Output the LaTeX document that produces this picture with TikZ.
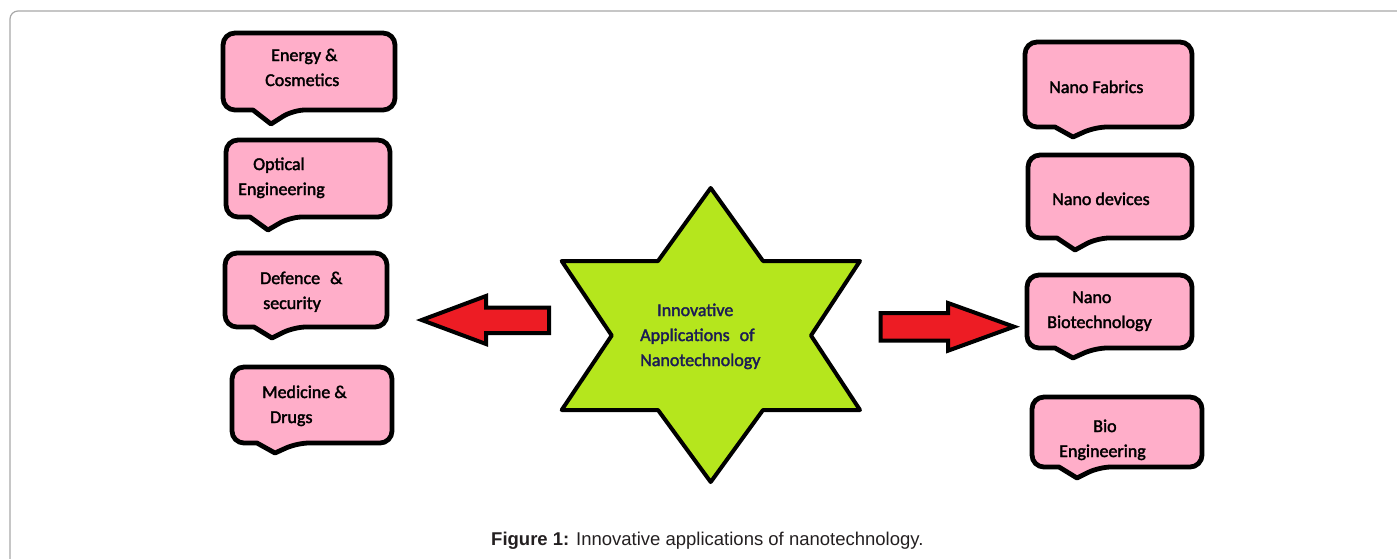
\documentclass[tikz,border=0pt]{standalone}
\usepackage{fontspec}
\setmainfont{Carlito}
\newfontfamily\lblfont[FakeBold=2]{Carlito}
\newfontfamily\capfont{Liberation Sans}
\definecolor{boxpink}{HTML}{FFAEC9}
\definecolor{starlime}{HTML}{B5E61D}
\definecolor{arrowred}{HTML}{ED1C24}
\definecolor{navytext}{HTML}{1C1C55}
\definecolor{framegray}{HTML}{A8A8A8}
\definecolor{captext}{HTML}{231F20}
\newcommand\mycallout[6]{%
  \draw[callout] ({#5-18},#4) [rounded corners=12pt] -- (#1,#4) -- (#1,#2) -- (#3,#2) -- (#3,#4) -- ({#5+22},#4) [sharp corners] -- (#5,#6) -- cycle;}
\begin{document}
\begin{tikzpicture}[x=1pt,y=-1pt,
  callout/.style={draw=black, fill=boxpink, line width=4.8pt, line join=round},
  lbl/.style={anchor=base west, align=left, inner sep=0pt, font=\lblfont\fontsize{18}{25}\selectfont, text=black},
  starlbl/.style={lbl, text=navytext},
  blockarrow/.style={draw=black, fill=arrowred, line width=4pt, line join=miter},
  starshape/.style={draw=black, fill=starlime, line width=4pt, line join=round},
  frame/.style={draw=framegray, line width=1.2pt, rounded corners=8pt}]
\useasboundingbox (0,0) rectangle (1397,558);
\clip (0,0) rectangle (1397,558);
% frame
\draw[frame] (10,600) -- (10,11) -- (1420,11);
% left callouts
\mycallout{223}{33}{395}{110}{271}{124}
\mycallout{226}{140}{390}{217}{268}{230}
\mycallout{225}{253}{387}{327}{272}{338}
\mycallout{232}{367}{392}{443}{275}{453}
% right callouts
\mycallout{1025}{42}{1192}{127}{1073}{137}
\mycallout{1028}{155}{1192}{238}{1075}{250}
\mycallout{1027}{275}{1192}{348}{1073}{358}
\mycallout{1032}{397}{1202}{467}{1077}{478}
% labels (base anchor = baseline of last line)
\node[lbl] (energy) at (265,86) {\hspace*{6pt}Energy \&\\Cosmetics};
\node[lbl] (optical) at (238,195) {\hspace*{15pt}Optical\\Engineering};
\node[lbl] (defence) at (260,309) {Defence\hspace{10pt}\&\\\hspace*{3pt}security};
\node[lbl] (medicine) at (262,423) {Medicine \&\\\hspace*{8pt}Drugs};
\node[lbl] (fabrics) at (1049,93) {Nano Fabrics};
\node[lbl] (devices) at (1052,205) {Nano devices};
\node[lbl] (biotech) at (1047,328) {\hspace*{25pt}Nano\\Biotechnology};
\node[lbl] (bioeng) at (1059,457) {\hspace*{34pt}Bio\\Engineering};
% star
\draw[starshape] (710.7,188) -- (763,261) -- (860,261) -- (811,335.5) -- (860,410) -- (763,410)
  -- (710.7,482) -- (658,410) -- (561.7,410) -- (611.7,335.5) -- (561.7,261) -- (658,261) -- cycle;
\node[starlbl] (centre) at (640,366) {\hspace*{17pt}Innovative\\Applications\hspace{10pt}of\\Nanotechnology};
% arrows
\draw[blockarrow] (421.7,320) -- (486,296) -- (486,307.7) -- (549,307.7) -- (549,333) -- (486,333) -- (486,344) -- cycle;
\draw[blockarrow] (1014,326.7) -- (948,303) -- (948,313) -- (880.7,313) -- (880.7,340.7) -- (948,340.7) -- (948,350.7) -- cycle;
% caption
\node[anchor=base west, inner sep=0pt, text=captext, font=\capfont\fontsize{18.5}{22}\selectfont] (caption) at (491,545)
  {\textbf{Figure 1:} Innovative applications of nanotechnology.};
\end{tikzpicture}
\end{document}
